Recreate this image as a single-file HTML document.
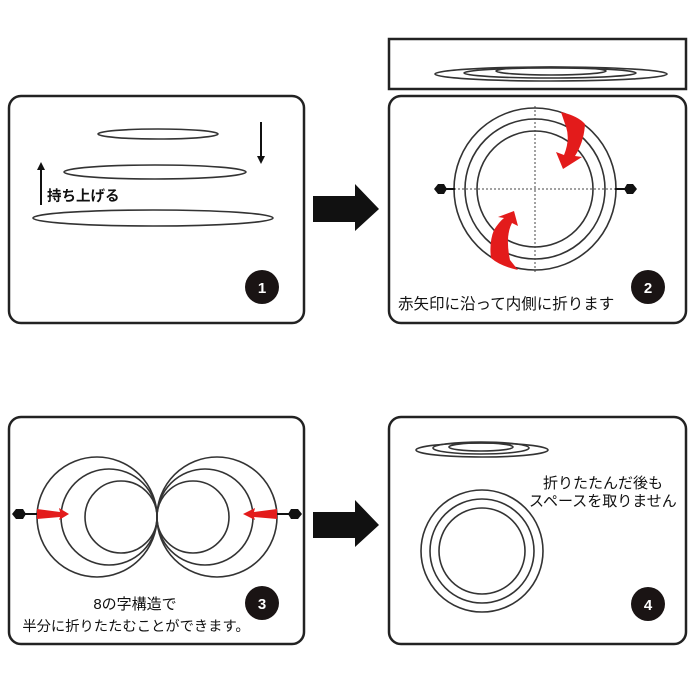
<!DOCTYPE html>
<html><head><meta charset="utf-8"><style>
html,body{margin:0;padding:0;background:#fff;}
svg{display:block}
text{font-family:"Liberation Sans","Noto Sans CJK JP",sans-serif;fill:#111;}
</style></head><body>
<svg width="700" height="700" viewBox="0 0 700 700" xmlns="http://www.w3.org/2000/svg">
<defs>
<marker id="ah" markerWidth="8" markerHeight="8" refX="4" refY="4" orient="auto" markerUnits="userSpaceOnUse"><path d="M0,0 L8,4 L0,8 Z" fill="#111"/></marker>
</defs>
<g fill="none" stroke="#222" stroke-width="2.5">
<rect x="9" y="96" width="295" height="227" rx="12"/>
<rect x="389" y="96" width="297" height="227" rx="12"/>
<rect x="389" y="39" width="297" height="50"/>
<rect x="9" y="417" width="295" height="227" rx="12"/>
<rect x="389" y="417" width="297" height="227" rx="12"/>
</g>
<!-- panel1 -->
<g fill="none" stroke="#333" stroke-width="1.6">
<ellipse cx="158" cy="134" rx="60" ry="5"/>
<ellipse cx="155" cy="172" rx="91" ry="7"/>
<ellipse cx="153" cy="218" rx="120" ry="8"/>
</g>
<line x1="261" y1="122" x2="261" y2="160" stroke="#111" stroke-width="2" marker-end="url(#ah)"/>
<line x1="41" y1="205" x2="41" y2="166" stroke="#111" stroke-width="2" marker-end="url(#ah)"/>
<text x="47" y="201" font-size="14.5" font-weight="bold">持ち上げる</text>
<!-- big arrows -->
<path d="M313,196 H355 V184 L379,209 L355,231 V222 H313 Z" fill="#111"/>
<path d="M313,512 H355 V500 L379,525 L355,547 V538 H313 Z" fill="#111"/>
<!-- top box ellipses -->
<g fill="none" stroke="#333" stroke-width="1.6">
<ellipse cx="551" cy="74" rx="116" ry="7"/>
<ellipse cx="550" cy="73" rx="86" ry="5"/>
<ellipse cx="551" cy="71" rx="55" ry="4"/>
</g>
<!-- panel2 -->
<g fill="none" stroke="#333" stroke-width="1.6">
<circle cx="535" cy="189" r="81"/>
<circle cx="535" cy="189" r="70"/>
<circle cx="535" cy="189" r="58"/>
</g>
<g stroke="#444" stroke-width="1" stroke-dasharray="2,2">
<line x1="535" y1="106" x2="535" y2="272"/>
<line x1="450" y1="189" x2="625" y2="189"/>
</g>
<line x1="445" y1="189" x2="455" y2="189" stroke="#111" stroke-width="2"/>
<line x1="615" y1="189" x2="625" y2="189" stroke="#111" stroke-width="2"/>
<path d="M434,189 l4,-5 h6 l3,5 l-3,5 h-6 z" fill="#111"/>
<path d="M637,189 l-4,-5 h-6 l-3,5 l3,5 h6 z" fill="#111"/>
<path d="M561,112 Q578,116 585,124 Q584,142 575,156 L582,157 L563,169 L556,152 L564,155 Q571,138 565,124 Z" fill="#e31b1b"/>
<path d="M518,270 Q500,266 491,258 Q489,242 494,230 Q499,222 504,218 L498,217 L514,211 L518,226 L512,223 Q505,236 510,260 Z" fill="#e31b1b"/>
<circle cx="648" cy="287" r="17" fill="#1a1414"/>
<text x="648" y="293" font-size="15" font-weight="bold" text-anchor="middle" style="fill:#fff">2</text>
<text x="398" y="309" font-size="15.5">赤矢印に沿って内側に折ります</text>
<!-- panel3 -->
<g fill="none" stroke="#333" stroke-width="1.6">
<circle cx="97" cy="517" r="60"/>
<circle cx="109" cy="517" r="48"/>
<circle cx="121" cy="517" r="36"/>
<circle cx="217" cy="517" r="60"/>
<circle cx="205" cy="517" r="48"/>
<circle cx="193" cy="517" r="36"/>
</g>
<line x1="22" y1="514" x2="37" y2="514" stroke="#111" stroke-width="2"/>
<path d="M12,514 l4,-5 h7 l3,5 l-3,5 h-7 z" fill="#111"/>
<line x1="277" y1="514" x2="292" y2="514" stroke="#111" stroke-width="2"/>
<path d="M302,514 l-4,-5 h-7 l-3,5 l3,5 h7 z" fill="#111"/>
<path d="M37,509 L60,512 L59,508 L69,514 L59,520 L60,517 L37,519 Z" fill="#e31b1b"/>
<path d="M277,509 L254,512 L255,508 L243,514 L255,520 L254,517 L277,519 Z" fill="#e31b1b"/>
<circle cx="262" cy="603" r="17" fill="#1a1414"/>
<text x="262" y="609" font-size="15" font-weight="bold" text-anchor="middle" style="fill:#fff">3</text>
<text x="135" y="609" font-size="15" text-anchor="middle">8の字構造で</text>
<text x="136" y="631" font-size="14.3" text-anchor="middle">半分に折りたたむことができます。</text>
<!-- panel4 -->
<g fill="none" stroke="#333" stroke-width="1.6">
<ellipse cx="482" cy="450" rx="66" ry="7"/>
<ellipse cx="481" cy="448" rx="48" ry="6"/>
<ellipse cx="481" cy="447" rx="32" ry="4"/>
<circle cx="482" cy="551" r="61"/>
<circle cx="482" cy="551" r="52"/>
<circle cx="482" cy="551" r="43"/>
</g>
<text x="543" y="488" font-size="15">折りたたんだ後も</text>
<text x="529" y="506" font-size="15">スペースを取りません</text>
<circle cx="648" cy="604" r="17" fill="#1a1414"/>
<text x="648" y="610" font-size="15" font-weight="bold" text-anchor="middle" style="fill:#fff">4</text>
<circle cx="262" cy="287" r="17" fill="#1a1414"/>
<text x="262" y="293" font-size="15" font-weight="bold" text-anchor="middle" style="fill:#fff">1</text>
</svg>
</body></html>
